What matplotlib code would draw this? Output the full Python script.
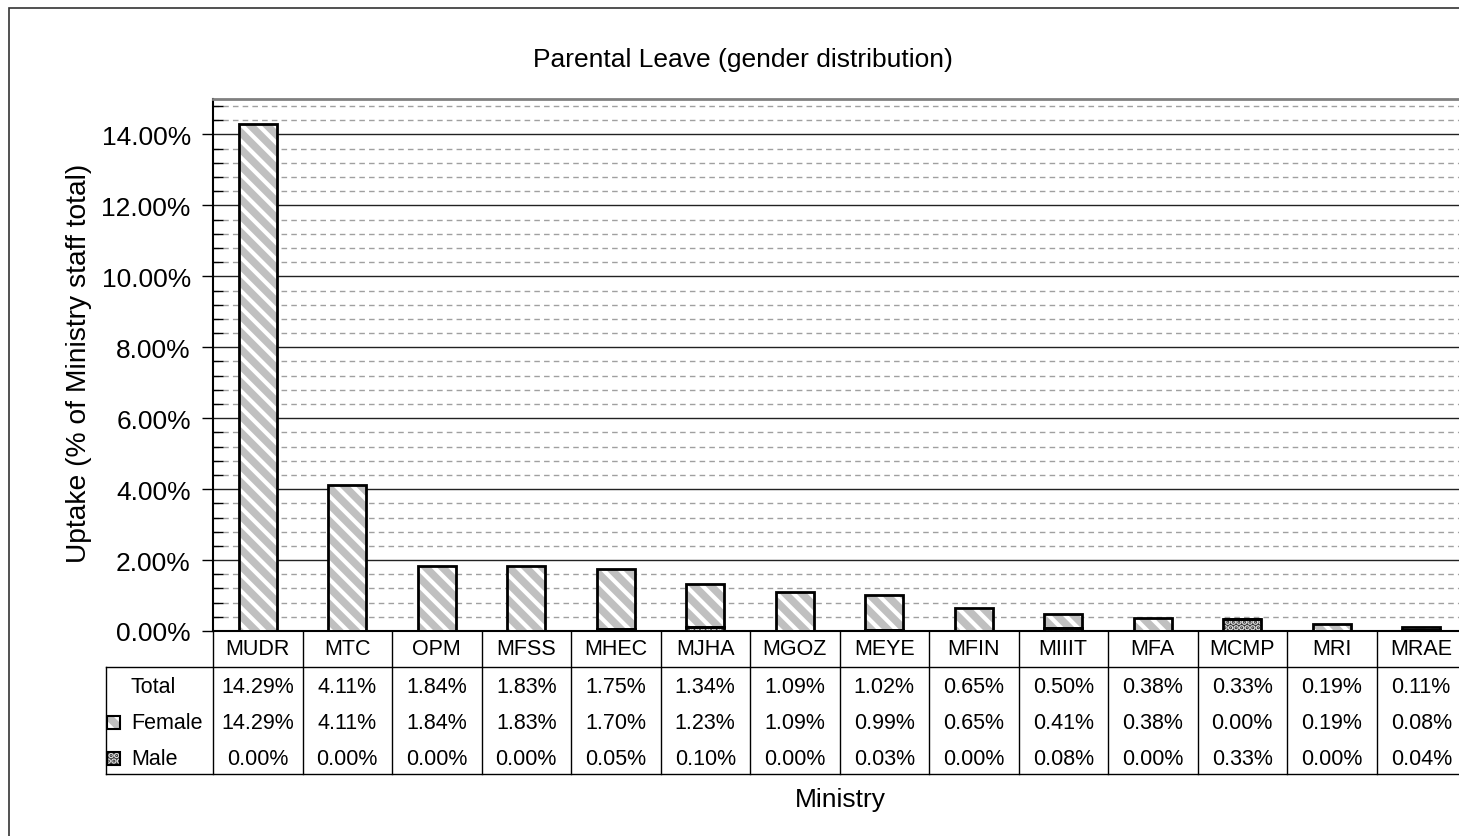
import matplotlib
matplotlib.use("Agg")
import matplotlib.pyplot as plt
import matplotlib.transforms as mtransforms
from matplotlib.patches import Rectangle
from matplotlib.ticker import MultipleLocator, FuncFormatter

plt.rcParams['font.family'] = ['Liberation Sans', 'DejaVu Sans']
plt.rcParams['hatch.linewidth'] = 3.0

ministries = ["MUDR", "MTC", "OPM", "MFSS", "MHEC", "MJHA", "MGOZ",
              "MEYE", "MFIN", "MIIIT", "MFA", "MCMP", "MRI", "MRAE"]
total = [14.29, 4.11, 1.84, 1.83, 1.75, 1.34, 1.09, 1.02, 0.65, 0.50, 0.38, 0.33, 0.19, 0.11]
female = [14.29, 4.11, 1.84, 1.83, 1.70, 1.23, 1.09, 0.99, 0.65, 0.41, 0.38, 0.00, 0.19, 0.08]
male = [0.00, 0.00, 0.00, 0.00, 0.05, 0.10, 0.00, 0.03, 0.00, 0.08, 0.00, 0.33, 0.00, 0.04]

W, H = 1459, 837
fig = plt.figure(figsize=(W / 100, H / 100), dpi=100)

# plot area goes a bit past the right edge, as in the original screenshot
ax = fig.add_axes([213 / W, 1 - 632 / H, 1253 / W, 532 / H])

x = list(range(len(ministries)))
bw = 0.43

fem_col = "#c0c0c0"
male_col = "#333333"
male_hatch = "..."

# male at bottom, female stacked on top
ax.bar(x, male, bw, color=male_col, edgecolor="#e0e0e0", hatch=male_hatch, linewidth=0, zorder=3)
ax.bar(x, male, bw, fill=False, edgecolor="black", linewidth=2, zorder=4)
ax.bar(x, female, bw, bottom=male, color=fem_col, edgecolor="white", hatch="\\\\",
       linewidth=0, zorder=3)
ax.bar(x, female, bw, bottom=male, fill=False, edgecolor="black", linewidth=2, zorder=4)

ax.set_xlim(-0.5, len(ministries) - 0.5)
ax.set_ylim(0, 15)
ax.yaxis.set_major_locator(MultipleLocator(2))
ax.yaxis.set_minor_locator(MultipleLocator(0.4))
ax.yaxis.set_major_formatter(FuncFormatter(lambda v, p: f"{v:.2f}%"))
ax.grid(which="major", axis="y", color="#222222", linewidth=1, zorder=1)
ax.grid(which="minor", axis="y", color="#a0a0a0", linewidth=1, linestyle=(0, (4, 3)), zorder=1)
ax.tick_params(axis="y", which="major", direction="out", length=8, width=1, labelsize=19, pad=8)
ax.tick_params(axis="y", which="minor", direction="in", length=7, width=1)
ax.set_xticks([])
ax.spines["right"].set_visible(False)
ax.spines["top"].set_color("#808080")
ax.spines["top"].set_linewidth(2)
ax.spines["left"].set_linewidth(1.5)
ax.spines["bottom"].set_linewidth(1.5)

ax.set_ylabel("Uptake (% of Ministry staff total)", fontsize=20.3)
ax.yaxis.set_label_coords((92 - 213) / 1253, (632 - 363) / 532)
fig.text(743 / W, 1 - 60 / H, "Parental Leave (gender distribution)", ha="center",
         va="center", fontsize=19)
fig.text(840 / W, 1 - 800 / H, "Ministry", ha="center", va="center", fontsize=19)

# data table under the axis
tr = mtransforms.blended_transform_factory(ax.transData, ax.transAxes)
px = 1 / 532
y_cat_bot = -36 * px
y_tab_bot = -143 * px
x_left = -0.5 - 107 / 89.5
n = len(ministries)
lk = dict(color="black", linewidth=1, transform=tr, clip_on=False)
ax.plot([x_left, n - 0.5], [y_cat_bot, y_cat_bot], **lk)
ax.plot([x_left, n - 0.5], [y_tab_bot, y_tab_bot], **lk)
ax.plot([x_left, x_left], [y_cat_bot, y_tab_bot], **lk)
for i in range(n + 1):
    ax.plot([i - 0.5, i - 0.5], [0, y_tab_bot], **lk)

fs = 15.5
row_y = [-56 * px, -92 * px, -128 * px]
for i, m in enumerate(ministries):
    ax.text(i, -18 * px, m, ha="center", va="center", fontsize=fs, transform=tr)
    for yy, vals in zip(row_y, [total, female, male]):
        ax.text(i, yy, f"{vals[i]:.2f}%", ha="center", va="center", fontsize=fs, transform=tr)

ax.text(-0.5 - 60 / 89.5, row_y[0], "Total", ha="center", va="center", fontsize=fs, transform=tr)
ax.text(-0.5 - 82 / 89.5, row_y[1], "Female", ha="left", va="center", fontsize=fs, transform=tr)
ax.text(-0.5 - 82 / 89.5, row_y[2], "Male", ha="left", va="center", fontsize=fs, transform=tr)

# legend keys inside the table
for yy, fc, ec, hh in [(row_y[1], fem_col, "white", "\\\\"), (row_y[2], male_col, "#e0e0e0", male_hatch)]:
    kx = 107 / W
    ky = (1 - 632 / H) + yy * 532 / H - 6 / H
    fig.patches.append(Rectangle((kx, ky), 13 / W, 13 / H, transform=fig.transFigure,
                                 facecolor=fc, edgecolor=ec, hatch=hh, linewidth=0))
    fig.patches.append(Rectangle((kx, ky), 13 / W, 13 / H, transform=fig.transFigure,
                                 fill=False, edgecolor="black", linewidth=1.5))

# outer chart border (cut on the right and bottom)
fig.patches.append(Rectangle((9 / W, -0.1), 1.2, 1 - 9 / H + 0.1, transform=fig.transFigure,
                             fill=False, edgecolor="#333333", linewidth=1.2))

fig.savefig("out.png", dpi=100)
